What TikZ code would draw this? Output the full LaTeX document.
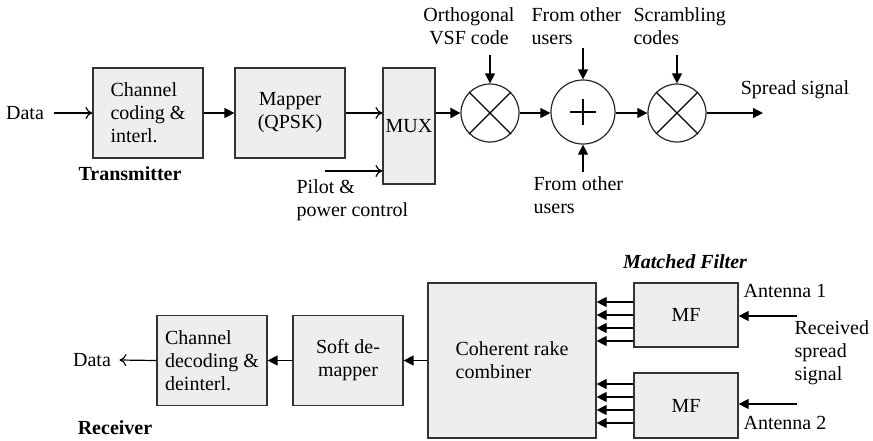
\documentclass[tikz,border=0pt]{standalone}
\usepackage{fontspec}
\setmainfont{Liberation Serif}
\usetikzlibrary{arrows.meta}
\definecolor{boxfill}{RGB}{238,238,238}
\begin{document}
\begin{tikzpicture}[x=0.5pt,y=-0.5pt,line width=0.6pt,
  every node/.style={inner sep=0pt,font=\fontsize{10}{11.5}\selectfont},
  blk/.style={draw=black!80,fill=boxfill,minimum width=55pt,minimum height=45pt},
  mixer/.style={draw=black!85,circle,minimum size=29pt},
  filltip/.style={-{Triangle[length=5pt,width=5pt]}},
  opentip/.style={-{To[length=3.5pt,width=6pt]}}]
\useasboundingbox (0,0) rectangle (873,440);
\node (datain) at (25,113) {Data};
\node [blk,align=left] (code) at (148,113) {Channel\\coding \&\\interl.};
\node [blk,align=center] (mapper) at (290,113) {Mapper\\(QPSK)};
\node [blk,minimum width=26pt,minimum height=58pt] (mux) at (409,126) {MUX};
\node [font=\fontsize{10}{11.5}\selectfont\bfseries] (tx) at (130,174) {Transmitter};
\node [anchor=west,align=left] (pilot) at (296,200) {Pilot \&\\power control};
\coordinate (pilotin) at (325,171);
\node [mixer] (m1) at (490,113) {};
\node [mixer,minimum size=32pt] (add) at (583,112) {};
\node [mixer] (m2) at (677,113) {};
\draw (m1.north west) -- (m1.south east) (m1.north east) -- (m1.south west);
\draw (m2.north west) -- (m2.south east) (m2.north east) -- (m2.south west);
\draw ([xshift=-6.5pt]add.center) -- ([xshift=6.5pt]add.center);
\draw ([yshift=-6.5pt]add.center) -- ([yshift=6.5pt]add.center);
\node [align=center] (orth) at (469,26) {Orthogonal\\VSF code};
\node [anchor=west,align=left] (usrtop) at (531,26) {From other\\users};
\node [anchor=west,align=left] (scr) at (633,26) {Scrambling\\codes};
\node [anchor=west,align=left] (usrbot) at (533,195) {From other\\users};
\node (spread) at (795,90) {Spread signal};
\coordinate (orthin) at (490,55);
\coordinate (usrtopin) at (583,48);
\coordinate (scrin) at (677,55);
\coordinate (usrbotin) at (583,172);
\coordinate (out) at (763,113);
\draw [opentip] (datain.east) ++(10,0) -- (code.west);
\draw [filltip] (code.east) -- (mapper.west);
\draw [opentip] (mapper.east) -- (mux.west |- mapper.east);
\draw [opentip] (pilotin) -- (mux.west |- pilotin);
\draw [filltip,line width=1.2pt] (mux.east |- m1.west) -- (m1.west);
\draw [filltip] (m1.east) -- (add.west |- m1.east);
\draw [filltip] (add.east |- m2.west) -- (m2.west);
\draw [filltip] (m2.east) -- (out);
\draw [filltip] (orthin) -- (m1.north);
\draw [filltip] (usrtopin) -- (add.north);
\draw [filltip] (scrin) -- (m2.north);
\draw [filltip] (usrbotin) -- (add.south);
\node (dataout) at (92,360) {Data};
\node [blk,align=left] (dec) at (212,360.5) {Channel\\decoding \&\\deinterl.};
\node [blk,align=center] (soft) at (348,360.5) {Soft de-\\mapper};
\node [blk,align=left,minimum width=84pt,minimum height=77.5pt] (comb) at (512,360.5) {Coherent rake\\combiner};
\node [blk,minimum width=52pt,minimum height=32pt] (mf1) at (686,315) {MF};
\node [blk,minimum width=52pt,minimum height=32.5pt] (mf2) at (686,405.5) {MF};
\node [font=\fontsize{10}{11.5}\selectfont\bfseries\itshape] (mfl) at (685,262) {Matched Filter};
\node [anchor=west] (ant1) at (743,291) {Antenna 1};
\node [anchor=west] (ant2) at (743,423) {Antenna 2};
\node [anchor=west,align=left] (rx) at (794,353) {Received\\spread\\signal};
\node [font=\fontsize{10}{11.5}\selectfont\bfseries] (rxl) at (115,428) {Receiver};
\coordinate (in1) at (797,316);
\coordinate (in2) at (797,404);
\draw [opentip] (dec.west) -- ([xshift=4pt]dataout.east);
\draw [filltip] (soft.west) -- (dec.east);
\draw [filltip] (comb.west) -- (soft.east);
\foreach \y in {302,315,328,341}
  \draw [filltip] (mf1.west |- 0,\y) -- (comb.east |- 0,\y);
\foreach \y in {384,397,410,423}
  \draw [filltip] (mf2.west |- 0,\y) -- (comb.east |- 0,\y);
\draw [filltip] (in1) -- (mf1.east |- in1);
\draw [filltip] (in2) -- (mf2.east |- in2);
\end{tikzpicture}
\end{document}
